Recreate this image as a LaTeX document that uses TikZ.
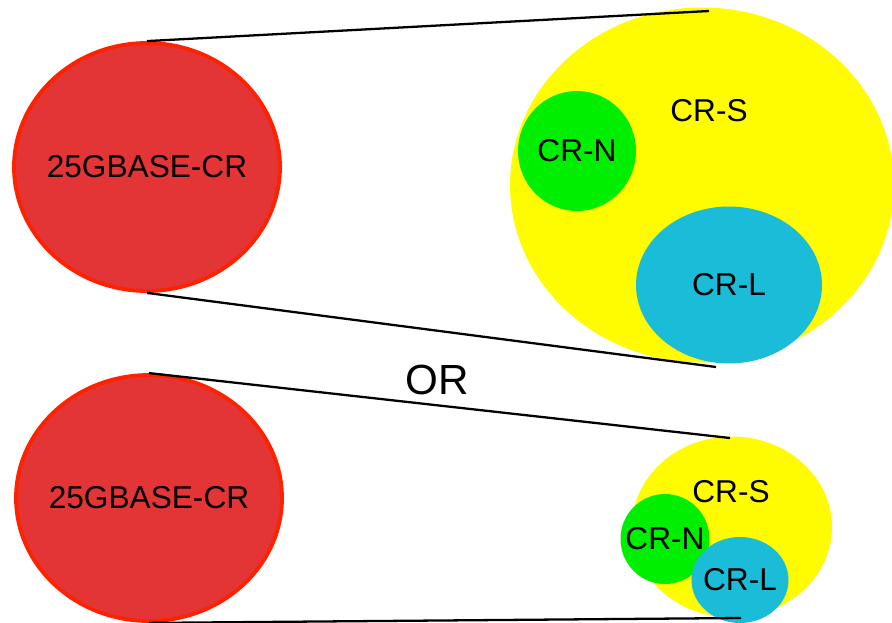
\documentclass[tikz,border=0pt]{standalone}
\usepackage{fontspec}
\setmainfont{Liberation Sans}
\usepackage{tikz}
\usetikzlibrary{shapes.geometric,positioning}

\definecolor{cabred}{HTML}{E33535}
\definecolor{cabedge}{HTML}{FF2200}
\definecolor{sylw}{HTML}{FFFB00}
\definecolor{ngrn}{HTML}{00EE00}
\definecolor{lblu}{HTML}{1ABCD7}

\tikzset{
  blob/.style={ellipse, inner sep=0pt, label={[font=\fontsize{18}{20}\selectfont]center:#1}},
  blob/.default={},
  cable/.style={blob=#1, fill=cabred, draw=cabedge, line width=2.2pt},
  zoomline/.style={draw=black, line width=1.3pt},
}

\begin{document}
\begin{tikzpicture}[x=0.02cm, y=-0.02cm]
    \useasboundingbox (0,0) rectangle (892,622);
    % upper picture
    \node[cable=25GBASE-CR, minimum width=5.32cm, minimum height=4.96cm] (rtop) at (147,167) {};
    \node[blob, fill=sylw, minimum width=7.68cm, minimum height=7.1cm] (ytop) at (702,185) {};
    \node[blob=CR-N, fill=ngrn, minimum width=2.36cm, minimum height=2.4cm] (ntop) at (577,151) {};
    \node[blob=CR-L, fill=lblu, minimum width=3.72cm, minimum height=3.14cm] (ltop) at (729,285) {};
    \node[font=\fontsize{18}{20}\selectfont] (stop) at (709,111) {CR-S};
    \coordinate (ytopa) at (709,11);
    \coordinate (ytopb) at (716,367);
    \draw[zoomline] (rtop.north) -- (ytopa);
    \draw[zoomline] (rtop.south) -- (ytopb);

    \node[font=\fontsize{24}{26}\selectfont] (or) at (437,380) {OR};

    % lower picture
    \node[cable=25GBASE-CR, minimum width=5.32cm, minimum height=4.92cm] (rbot) at (149,498) {};
    \node[blob, fill=sylw, minimum width=4cm, minimum height=3.62cm] (ybot) at (732,527) {};
    \node[blob=CR-N, fill=ngrn, minimum width=1.78cm, minimum height=1.8cm] (nbot) at (665,539) {};
    \node[blob=CR-L, fill=lblu, minimum width=1.94cm, minimum height=1.72cm] (lbot) at (740,580) {};
    \node[font=\fontsize{18}{20}\selectfont] (sbot) at (731,492) {CR-S};
    \coordinate (ybota) at (730,438);
    \coordinate (ybotb) at (741,618);
    \draw[zoomline] (rbot.north) -- (ybota);
    \draw[zoomline] (rbot.south) -- (ybotb);
\end{tikzpicture}
\end{document}
